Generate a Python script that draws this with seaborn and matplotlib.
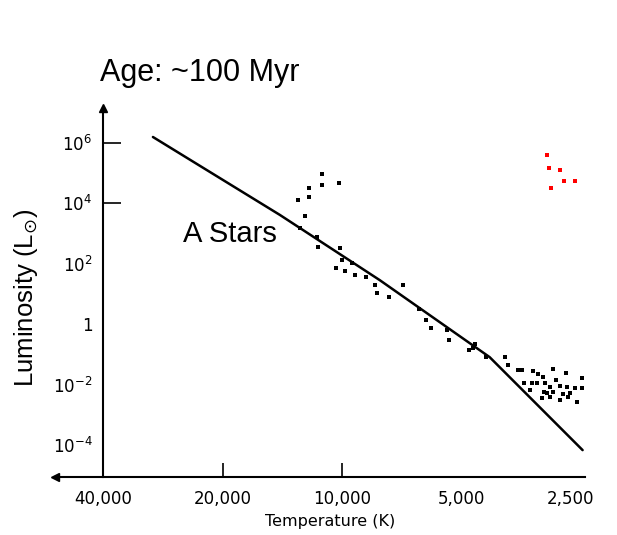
import numpy as np
import pandas as pd
import seaborn as sns
import matplotlib.pyplot as plt
import matplotlib.transforms as mtransforms

# main sequence track (temperature in K, log10 of luminosity in L_sun)
line_temp = [30000, 14340, 8020, 4232, 2464]
line_logL = [6.20, 3.62, 1.46, -1.09, -4.17]

# cluster stars (black)
star_temp = [11230, 10175, 11230, 12115, 12115, 12915, 12400,
             12765, 11565, 11497, 10116, 10000, 9436, 10355, 9828, 9274, 8699,
             8257, 8161, 7609, 7015, 6392, 6135, 5962, 5431, 5368, 4779, 4617,
             4330, 4671,
             3877, 3810, 3595, 3512, 3295, 3200, 3109, 2933, 2720, 2478, 2882,
             3472, 3314, 3219, 3073, 2985, 2816, 2704, 2581, 2478, 3091, 2933,
             3038, 2768, 2657, 3127, 2985, 2816, 2688, 2551, 3353]
star_logL = [4.97, 4.68, 4.61, 4.51, 4.21, 4.11, 3.58,
             3.19, 2.89, 2.56, 2.52, 2.13, 2.03, 1.86, 1.76, 1.63, 1.56,
             1.30, 1.03, 0.90, 1.30, 0.50, 0.14, -0.13, -0.19, -0.52, -0.85, -0.66,
             -1.09, -0.79,
             -1.09, -1.35, -1.52, -1.52, -1.55, -1.65, -1.75, -1.48, -1.62, -1.78, -1.85,
             -1.95, -1.95, -1.95, -1.95, -2.08, -2.05, -2.08, -2.11, -2.11, -2.25, -2.25,
             -2.28, -2.31, -2.28, -2.44, -2.41, -2.51, -2.41, -2.58, -2.18]

# red giants
red_temp = [3038, 3003, 2816, 2752, 2581, 2968]
red_logL = [5.60, 5.17, 5.11, 4.74, 4.74, 4.51]

y_ticks = [1e6, 1e4]
y_ticklabels = ["$10^6$", "$10^4$"]
y_minor = [1e2, 1, 1e-2, 1e-4]
y_minorlabels = ["$10^2$", "1", "$10^{-2}$", "$10^{-4}$"]
x_ticks = [40000, 20000, 10000]
x_ticklabels = ["40,000", "20,000", "10,000"]
x_minor = [5000, 2500]
x_minorlabels = ["5,000", "2,500"]

line_df = pd.DataFrame({"T": line_temp, "L": 10 ** np.array(line_logL)})
star_df = pd.DataFrame({"T": star_temp, "L": 10 ** np.array(star_logL)})
red_df = pd.DataFrame({"T": red_temp, "L": 10 ** np.array(red_logL)})

sns.set_style("white")
plt.rcParams["font.family"] = ["DejaVu Sans"]
plt.rcParams["mathtext.fontset"] = "dejavusans"
plt.rcParams["text.color"] = "black"
plt.rcParams["axes.labelcolor"] = "black"
plt.rcParams["xtick.color"] = "black"
plt.rcParams["ytick.color"] = "black"

fig = plt.figure(figsize=(6.17, 5.35), dpi=100)
ax = fig.add_axes([55 / 617, 58 / 535, 530 / 617, 369 / 535])
ax.set_xscale("log")
ax.set_yscale("log")

sns.lineplot(data=line_df, x="T", y="L", color="black", linewidth=1.8,
             estimator=None, sort=False, ax=ax)
sns.scatterplot(data=star_df, x="T", y="L", color="black", marker="s",
                s=8, linewidth=0, ax=ax)
sns.scatterplot(data=red_df, x="T", y="L", color="red", marker="s",
                s=10, linewidth=0, ax=ax)

ax.set_xlim(53030, 2430)
ax.set_ylim(10 ** -5.06, 10 ** 7.16)

# axes: left one sits at 40,000 K
for side in ["top", "right"]:
    ax.spines[side].set_visible(False)
ax.spines["left"].set_position(("data", 40000))
for side in ["left", "bottom"]:
    ax.spines[side].set_linewidth(1.5)
    ax.spines[side].set_color("black")

# arrow heads
ax.plot([40000], [10 ** 7.16], marker="^", color="black", markersize=6,
        clip_on=False)
ax.plot([53030], [10 ** -5.06], marker="<", color="black", markersize=6,
        clip_on=False)

ax.set_xticks(x_ticks, x_ticklabels)
ax.set_xticks(x_minor, x_minorlabels, minor=True)
ax.set_yticks(y_ticks, y_ticklabels)
ax.set_yticks(y_minor, y_minorlabels, minor=True)
ax.tick_params(axis="x", which="major", bottom=True, direction="in",
               length=10, width=1.2, pad=9, labelsize=12)
ax.tick_params(axis="x", which="minor", bottom=True, length=0, pad=9,
               labelsize=12)
ax.tick_params(axis="y", which="major", left=True, direction="in",
               length=13, width=1.2, pad=8, labelsize=12)
ax.tick_params(axis="y", which="minor", left=True, length=0, pad=8,
               labelsize=12)

# last temperature label sits a little left of its position
last_lab = ax.get_xticklabels(minor=True)[-1]
last_lab.set_transform(last_lab.get_transform() +
                       mtransforms.ScaledTranslation(-0.1, 0, fig.dpi_scale_trans))

ax.set_xlabel("Temperature (K)", fontsize=11.5)
ax.xaxis.set_label_coords(0.52, -0.1)
ax.set_ylabel("Luminosity (L$_{\\odot}$)", fontsize=18.5,
              family="Liberation Sans")
ax.yaxis.set_label_coords(-0.028, 0.485)

ax.text(19200, 10 ** 3.0, "A Stars", fontsize=21, family="Liberation Sans",
        ha="center", va="center")
fig.text(100 / 617, 1 - 81 / 535, "Age: ~100 Myr", fontsize=22,
         family="Liberation Sans", va="baseline")

fig.savefig("out.png", dpi=100)
